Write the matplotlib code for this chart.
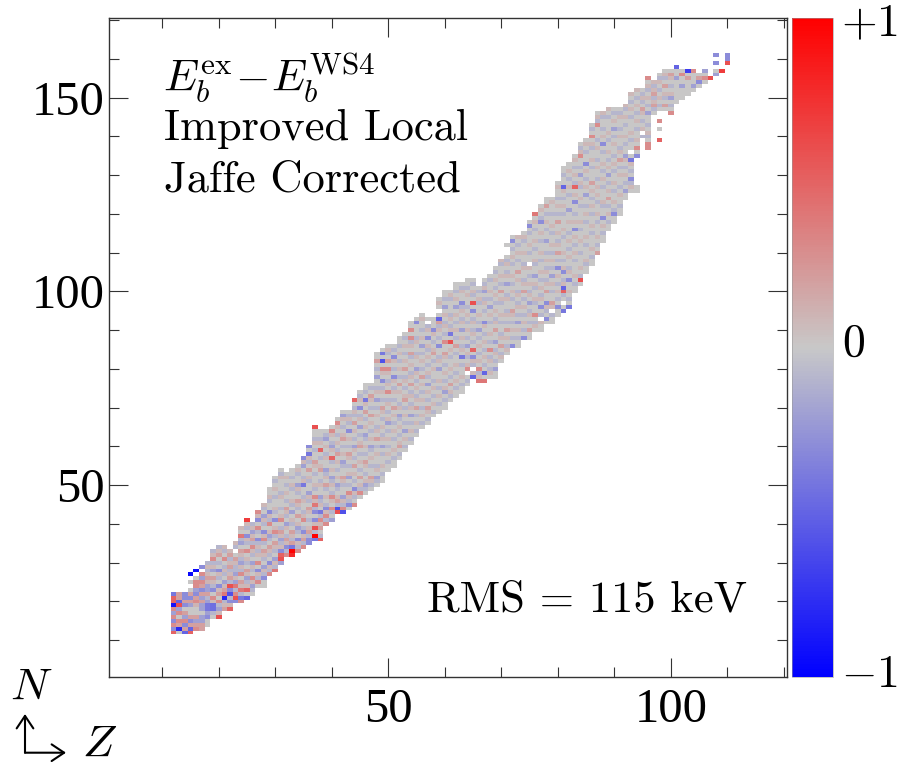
import numpy as np
import matplotlib
matplotlib.use("Agg")
import matplotlib.pyplot as plt
from matplotlib.colors import LinearSegmentedColormap
from matplotlib.ticker import MultipleLocator

# Extent of the chart per proton number Z (first entry is Z = 12)
first_z = 12
n_lower = [12,12,12,12,13,13,14,16,16,18,18,20,20,21,22,24,24,27,28,30,32,32,33,34,35,36,36,40,41,43,43,44,45,47,48,49,50,51,54,55,
           57,59,61,63,65,66,68,69,70,72,73,74,76,78,77,77,78,78,82,84,86,86,88,88,90,90,92,92,94,95,96,100,102,105,107,110,113,116,118,120,
           124,126,135,139,137,146,147,147,146,149,150,151,152,153,154,155,156]
n_upper = [22,22,22,23,26,27,30,33,34,34,33,35,39,41,40,43,45,49,52,54,53,54,55,57,60,65,64,64,65,67,69,69,72,74,76,76,84,85,86,86,
           88,89,92,93,94,93,93,98,100,100,102,102,103,103,101,103,104,106,108,109,114,114,115,118,120,122,124,124,128,132,133,135,138,139,143,146,146,147,147,147,
           148,151,152,152,155,154,156,157,157,158,157,157,157,156,157,155,157]

# Cells missing inside the outline (Z, N)
empty_cells = [(15,24),(17,28),(23,33),(57,92),(59,95),(64,79),(65,80),(75,107),(77,93),(79,95),(81,97),(93,136),(95,141),(95,139)]
# Cells outside the main outline (Z, N)
extra_cells = [(15,25),(15,27),(16,28),(17,29),(71,112),(94,126),(94,127),(98,144),(98,142),(98,139),(108,159),(108,161),(109,157),(110,161),(110,160),(110,159)]

# Cell values in MeV (Z, N, value); all others are about 0
cell_values = [
 (12,12,.5),(12,13,-.3),(12,14,.3),(12,15,-.3),(12,16,.3),(12,17,-.2),(12,18,.3),(12,19,-.9),(12,20,.5),(12,21,.5),(12,22,-.4),
 (13,13,-.8),(13,14,.2),(13,15,.3),(13,17,.3),(13,18,-.2),(13,19,.6),(13,20,-.5),(13,21,.2),(13,22,.2),
 (14,12,-.5),(14,13,.2),(14,14,-.3),(14,15,.3),(14,16,-.2),(14,17,.2),(14,19,-.3),(14,20,.2),(14,21,-.3),(14,22,-.3),
 (15,12,.5),(15,13,-.5),(15,14,.2),(15,15,-.3),(15,16,.2),(15,19,-.2),(15,20,.2),(15,21,-.3),(15,22,.2),(15,27,-.95),
 (16,13,.3),(16,14,.2),(16,15,-.2),(16,16,.2),(16,19,.1),(16,20,.3),(16,21,.2),(16,22,-.3),(16,23,-.2),(16,24,.3),(16,25,.3),(16,28,-.95),
 (17,13,.2),(17,14,.2),(17,15,-.2),(17,16,-.2),(17,18,-.2),(17,19,-.2),(17,20,.2),(17,21,-.2),(17,22,.2),(17,23,-.3),(17,24,.2),(17,25,.3),(17,26,-.2),(17,27,.3),(17,29,-.3),
 (18,16,-.3),(18,17,-.2),(18,18,-.4),(18,19,-.4),(18,20,-.2),(18,22,.2),(18,23,-.2),(18,24,-.2),(18,25,.1),(18,26,.2),
 (19,18,-.45),(19,19,-.45),(19,21,.3),(19,23,-.3),(19,26,.2),(19,28,-.2),(19,31,.3),
 (20,16,.6),(20,18,-.2),(20,20,.3),(20,22,.2),(20,24,-.3),(20,28,-.3),(20,32,.2),
 (21,18,.2),(21,21,-.8),(21,22,.4),(21,23,.2),(21,25,-.2),(21,31,.3),
 (22,18,.5),(22,20,-.3),(22,22,-.6),(22,23,-.3),(22,24,.6),(22,26,.2),(22,29,.2),(22,32,.2),
 (23,20,-.3),(23,21,.6),(23,22,.3),(23,24,.4),(23,25,-.2),(23,27,-.2),(23,31,.2),
 (24,20,.3),(24,21,-.4),(24,23,.4),(24,25,.2),(24,27,.3),(24,30,-.2),(24,33,.2),(24,37,.4),(24,35,-.2),
 (25,21,-.5),(25,23,.5),(25,26,-.2),(25,28,.2),(25,33,.3),(25,37,-.3),(25,41,.7),
 (26,24,-.2),(26,26,.3),(26,30,-.2),(26,34,.3),(26,36,.2),(26,38,-.2),
 (27,25,.3),(27,28,-.3),(27,30,.3),(27,36,-.3),(27,39,.3),(27,41,-.3),(27,43,.3),
 (28,26,-.3),(28,29,-.2),(28,33,.2),(28,36,.3),(28,38,-.3),(28,42,-.2),
 (29,27,.3),(29,30,-.3),(29,34,.2),(29,37,-.2),(29,40,.3),(29,43,-.3),
 (30,28,.4),(30,31,-.2),(30,35,.2),(30,38,.3),(30,41,-.3),
 (31,30,-.2),(31,31,.6),(31,32,.5),(31,33,-.3),(31,36,-.2),(31,38,.2),(31,41,.3),
 (32,32,.3),(32,34,-.3),(32,36,.2),(32,40,-.2),(32,44,.2),
 (33,32,.8),(33,33,1.),(33,34,-.4),(33,35,.2),(33,38,.2),(33,43,-.2),
 (34,33,.3),(34,36,-.3),(34,39,-.2),(34,42,.2),(34,46,.2),(34,50,-.2),
 (35,34,.3),(35,36,.2),(35,38,-.3),(35,41,.3),(35,50,-.4),(35,55,-.2),(35,57,-.3),
 (36,35,-.3),(36,36,-.3),(36,38,.2),(36,44,.2),(36,48,-.2),(36,54,.2),(36,58,-.4),(36,60,-.3),
 (37,36,-.4),(37,37,1.),(37,39,.6),(37,41,-.3),(37,43,-.3),(37,45,.4),(37,47,.3),(37,65,.6),(37,56,.2),
 (38,36,.5),(38,39,.2),(38,41,.3),(38,43,-.4),(38,47,-.2),(38,59,.5),(38,54,.2),
 (39,40,.3),(39,42,.3),(39,44,-.3),(39,50,.2),(39,54,-.2),(39,62,-.2),
 (40,41,-.2),(40,44,.3),(40,47,.3),(40,52,-.2),(40,57,.5),(40,60,-.2),(40,64,.3),
 (41,43,.6),(41,44,-.6),(41,46,.2),(41,50,-.2),(41,58,.2),(41,66,.3),
 (42,43,-.6),(42,44,.3),(42,47,-.2),(42,52,.2),(42,56,-.2),(42,62,.2),(42,68,-.2),
 (43,45,-.3),(43,48,.3),(43,52,-.2),(43,58,.2),(43,64,-.3),
 (44,45,.3),(44,49,-.3),(44,55,.2),(44,60,-.2),(44,72,.5),(44,66,.2),
 (45,48,.3),(45,52,.2),(45,60,.2),(45,65,-.2),(45,70,-.3),
 (46,50,-.2),(46,56,.2),(46,63,-.2),(46,69,.2),(46,72,-.4),(47,52,.2),(47,60,-.2),(47,68,.2),(47,73,.2),
 (48,52,-.2),(48,62,.2),(48,72,-.2),(48,78,-.2),(48,82,.2),
 (49,82,-.6),(49,80,.3),(49,77,-.3),(49,84,-.4),(49,70,.2),(49,60,-.2),
 (50,74,.3),(50,80,.3),(50,82,.2),(50,66,-.2),(51,78,-.3),(51,83,-.3),(51,70,.2),(52,76,.2),(52,68,-.2),(52,60,.2),
 (53,72,.2),(53,80,.2),(53,64,-.2),(54,68,-.2),(54,76,.2),(54,88,.3),(54,90,.3),(54,84,.2),(55,92,-.3),(55,80,-.2),(55,70,.2),
 (56,86,-.2),(56,78,.2),(57,88,-.3),(57,76,-.2),(57,70,.2),(58,90,-.3),(58,84,.2),(59,80,-.2),(59,86,-.3),(59,93,-.5),(59,92,.2),
 (60,84,.2),(60,74,-.2),(60,87,.3),(60,96,-.2),(61,87,.6),(61,89,-.4),(61,76,.2),(62,86,.2),(62,96,-.2),(63,83,-.4),(63,90,-.2),(63,97,-.3),
 (64,80,.3),(64,86,-.2),(65,78,-.5),(65,85,.5),(65,83,-.3),(65,97,.6),(65,95,-.3),(66,90,-.2),(66,80,.3),(66,77,.4),(67,79,-.5),(67,77,.4),(67,92,-.3),(67,100,-.2),
 (68,85,.3),(68,96,-.2),(69,80,-.2),(69,90,.2),(69,87,-.2),(70,86,.2),(70,100,.2),(71,90,.2),(71,102,-.2),(72,86,-.3),(72,95,.2),(72,113,-.3),
 (73,92,-.2),(73,105,.2),(74,88,-.3),(74,100,.2),(75,90,.2),(75,97,-.2),(76,94,.3),(76,104,-.2),(77,96,-.3),(78,93,-.3),(78,100,.2),(78,97,-.3),
 (79,97,.2),(79,104,-.2),(80,96,-.3),(80,110,.2),(80,106,-.3),(81,101,-.5),(81,100,.5),(81,95,-.4),(81,105,-.3),(82,96,-.4),(82,103,-.3),(84,103,.6),
 (76,120,.4),(75,117,-.3),(77,118,-.3),(78,122,.2),(78,113,-.2),(80,118,.2),(81,127,-.5),(82,121,-.2),(83,127,.5),(83,123,-.3),(83,116,-.3),
 (84,135,.3),(84,130,-.2),(85,133,-.3),(85,125,-.2),(86,140,.3),(86,128,.2),(87,143,.3),(87,110,.2),(88,138,-.3),(88,119,-.3),(89,130,-.2),(89,124,.2),
 (90,120,-.3),(90,142,-.2),(91,134,.2),(92,126,-.2),(92,135,-.2),(93,134,-.4),(93,129,-.3),(94,135,-.3),(94,137,.3),(95,147,.2),(96,137,.3),(96,138,.3),
 (96,155,.3),(96,146,-.2),(97,148,.2),(97,151,.2),(98,144,.3),(98,139,.5),(99,148,.2),(99,153,.2),(100,146,.3),(100,150,-.2),(100,156,.2),(101,158,-.5),(101,155,-.2),
 (102,153,-.2),(102,156,.3),(103,157,-.7),(103,155,.2),(104,157,.3),(104,153,-.2),(105,154,-.3),(105,155,.2),(106,155,.3),(106,157,-.2),(107,155,.6),(108,159,-.3),(108,161,-.3),(108,156,-.2),
 (109,157,.7),(110,161,-.3),(110,160,-.3),(110,159,.6),
]

# Faint tints, estimated column by column: Z -> N of slightly blue / slightly red cells
faint_blue = {
 18:[21,28,30],19:[17,24,30,33],20:[19,26,30,34],21:[20,27,29,33],22:[21,25,28,31],23:[23,29,34,28],24:[22,28,31,36],25:[25,30,35,39],26:[23,28,32,35,40],
 27:[26,33,35,38],28:[27,31,35,40,44],29:[28,32,36,41,46],30:[29,33,37,43,47,51],31:[31,35,39,44,48,53],32:[33,37,42,46,50],33:[36,40,45,49,52],34:[34,38,44,48,53],
 35:[35,39,43,47,52],36:[37,41,46,51,56],37:[38,44,49,53,59,62],38:[37,42,46,51,57,62],39:[41,45,49,53,58,63],40:[43,48,51,56,61],41:[45,49,54,59,63],42:[45,50,55,60,65],
 43:[46,50,55,60,66,68],44:[47,51,57,62,68,70],45:[49,54,58,63,68,73],46:[49,53,58,62,67,74],47:[50,55,59,64,70,75],48:[51,55,60,65,70,75,80],49:[53,58,63,67,72,75],
 50:[56,60,64,69,72,77,84],51:[57,62,66,72,75,80,85],52:[58,63,67,71,78,82,86],53:[60,66,70,75,78,84,88],54:[62,66,71,74,79,83,87],55:[64,68,73,77,84,88],56:[66,70,74,80,84,90],
 57:[67,72,78,81,85,91],58:[69,73,77,82,87],59:[71,75,83,88,91],60:[72,77,81,89,92,98],61:[73,78,83,91,94,98],62:[75,79,84,88,92,100],63:[76,81,86,93,96,101],64:[77,83,88,92,96,101],
 65:[81,87,90,93,99,102],66:[79,84,88,92,97,100],67:[81,85,89,95,98,102],68:[80,83,87,92,98,103],69:[82,85,93,97,101,105],70:[84,89,92,97,102,107],71:[86,92,95,99,105,108],
 72:[88,92,98,102,107,111],73:[88,94,97,100,108,112],74:[90,94,98,103,107,113],75:[92,95,100,104,110,115],76:[92,97,101,107,111,116],77:[94,99,103,108,113,119],78:[95,103,106,110,116,120],
 79:[94,100,106,110,115,120],80:[98,102,108,113,120,124],81:[99,103,108,114,120,124,130],82:[98,106,111,115,125,129],83:[102,108,112,120,128,132],84:[104,110,116,122,127,132,137],
 85:[107,112,118,122,129,136],86:[109,115,120,124,132,137,142],87:[112,118,123,129,134,139,144],88:[115,122,127,131,136,142,145],89:[118,122,128,134,139,145],90:[121,126,131,135,140,146],
 91:[122,127,132,137,142,146],92:[128,132,138,143,147],93:[128,131,139,145,149],94:[137,142,146,150],95:[140,144,149,151],96:[140,143,148,152],97:[147,150,153],98:[148,152,155],99:[150,155],100:[148,153],
}
faint_red = {
 18:[27,29],19:[20,25,29,32],20:[17,23,27,33],21:[19,24,28,34],22:[19,27,30,33],23:[26,30,35],24:[24,29,32,39],25:[24,27,31,36,40],26:[25,29,33,37,39],
 27:[27,32,34,38,42],28:[28,32,37,41,45],29:[29,33,38,42,47],30:[30,34,39,44,49],31:[34,37,42,47,52],32:[35,39,43,48,52],33:[37,41,46,50],34:[35,40,45,49,54],
 35:[37,42,46,51,56],36:[39,43,47,52,57],37:[40,46,50,55,61],38:[40,45,50,55,61],39:[43,47,52,57,60],40:[46,50,54,59,63],41:[47,52,56,61,65],42:[46,51,58,63,67],
 43:[47,53,57,62,67],44:[48,53,59,64,69],45:[50,56,61,67,72],46:[51,55,60,65,71],47:[51,57,62,66,72],48:[54,58,64,68,74,80],49:[55,62,65,69,74,79],
 50:[58,62,67,71,76,79,85],51:[59,64,68,74,77,82],52:[61,65,70,74,80,84],53:[62,68,73,77,82,86],54:[64,70,73,78,81,86],55:[66,72,75,79,83,87],56:[68,72,76,82,88,93],
 57:[69,74,79,83,86,90],58:[71,75,80,85,89],59:[73,77,82,90,97],60:[75,79,83,91,94],61:[74,80,85,90,93,99],62:[77,81,90,94,98],63:[78,85,88,92,95,100],64:[81,84,90,94,99],
 65:[79,82,89,92,100],66:[78,82,86,94,98],67:[83,87,91,97,101],68:[79,82,89,94,100],69:[84,92,95,99,103],70:[83,88,94,98,104,108],71:[85,88,94,98,104,107],
 72:[90,94,100,104,109],73:[90,96,99,103,110,114],74:[92,96,102,106,110,114],75:[94,99,102,106,112],76:[91,98,102,108,113,118],77:[92,98,101,105,110,115,121],78:[96,102,105,108,118],
 79:[96,102,108,112,117,123],80:[100,104,112,115,122,127],81:[102,106,110,116,122,126],82:[100,105,109,113,118,127,131],83:[104,110,114,118,125,130,134],84:[106,113,118,124,128,136],
 85:[108,114,120,127,131,138],86:[111,117,122,126,134,138],87:[114,120,125,127,132,137,145],88:[117,123,129,133,140,146],89:[120,126,132,136,141,147],90:[123,128,133,138,144],
 91:[125,130,136,140,145],92:[130,134,140,145,148],93:[127,133,141,147,151],94:[139,144,148,152],95:[142,146,150],96:[141,150,153],97:[149,152,154],98:[150,154],99:[151,156],100:[151,155],
}

z_ticks = [50, 100]
n_ticks = [50, 100, 150]

z_edges = np.arange(0.5, 121, 1.0)
n_edges = np.arange(0.5, 171, 1.0)
grid = np.full((170, 120), np.nan)
for i, (lo, hi) in enumerate(zip(n_lower, n_upper)):
    grid[lo - 1:hi, first_z + i - 1] = 0.0
for z, n in extra_cells:
    grid[n - 1, z - 1] = 0.0
for z, n in empty_cells:
    grid[n - 1, z - 1] = np.nan
for tint, cells in ((-0.09, faint_blue), (0.08, faint_red)):
    for z, ns in cells.items():
        for n in ns:
            if grid[n - 1, z - 1] == 0.0:
                grid[n - 1, z - 1] = tint
for z, n, v in cell_values:
    grid[n - 1, z - 1] = v

cmap = LinearSegmentedColormap.from_list("bgr", ["#0000ff", "#c8c8c8", "#ff0000"], N=256)
W, H = 898, 764
fig = plt.figure(figsize=(W / 100, H / 100), dpi=100)


def box(l, t, r, b):
    return [l / W, 1 - b / H, (r - l) / W, (b - t) / H]


ax = fig.add_axes(box(108.5, 18.3, 786.7, 677))
mesh = ax.pcolormesh(z_edges, n_edges, np.ma.masked_invalid(grid), cmap=cmap, vmin=-1, vmax=1,
                     shading="flat", antialiased=False)
ax.set_xlim(0.5, 120.5)
ax.set_ylim(0.5, 170.5)
ax.set_xticks(z_ticks)
ax.set_yticks(n_ticks)
ax.xaxis.set_minor_locator(MultipleLocator(10))
ax.yaxis.set_minor_locator(MultipleLocator(10))
ax.tick_params(which="major", direction="in", length=13.7, width=0.8, color="#333333",
               top=True, right=True, labelsize=35)
ax.tick_params(axis="x", which="major", pad=8)
ax.tick_params(axis="y", which="major", pad=3)
ax.tick_params(which="minor", direction="in", length=7.2, width=0.8, color="#333333", top=True, right=True)
for lab in ax.get_xticklabels() + ax.get_yticklabels():
    lab.set_fontfamily("Liberation Serif")
for s in ax.spines.values():
    s.set_linewidth(1.0)
    s.set_color("#333333")

cax = fig.add_axes(box(791.7, 18.3, 832.7, 677))
cb = fig.colorbar(mesh, cax=cax)
cb.set_ticks([])
cb.outline.set_linewidth(0.4)
cb.outline.set_edgecolor("#999999")

plt.rcParams["mathtext.fontset"] = "cm"
CM = "cmr10"


def put(x, y, s, size=32, family=None, ha="left", va="baseline"):
    kw = {"fontfamily": family} if family else {}
    fig.text(x / W, 1 - y / H, s, fontsize=size, ha=ha, va=va, color="black", **kw)


put(163, 92, r"$E_b^{\mathrm{ex}}\!-\!E_b^{\mathrm{WS4}}$", size=32)
put(164, 140, "Improved Local", family=CM)
put(164, 192, "Jaffe Corrected", family=CM)
put(427, 612, "RMS = 115 keV", family=CM)
put(841, 36, r"$+1$", size=33)
put(842, 356, "0", size=33, family=CM)
put(841, 687, r"$-1$", size=33)
put(10, 700, r"$N$", size=33)
put(82, 757, r"$Z$", size=33)

corner = (25 / W, 1 - 752.7 / H)
for tip in [(25 / W, 1 - 714 / H), (66 / W, 1 - 752.7 / H)]:
    fig.add_artist(matplotlib.patches.FancyArrowPatch(corner, tip, transform=fig.transFigure,
                   arrowstyle="->,head_length=9,head_width=6", lw=1.5, color="black",
                   shrinkA=0, shrinkB=0, mutation_scale=1))

fig.savefig("out.png", dpi=100)
